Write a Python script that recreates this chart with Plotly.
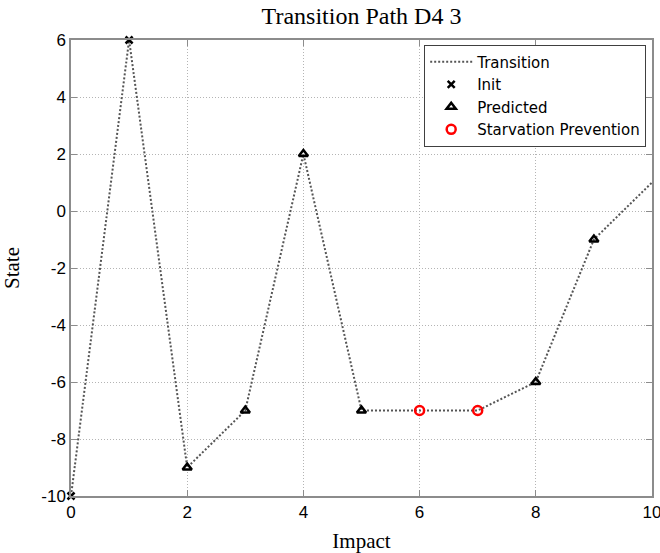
import plotly.graph_objects as go

impact = [0, 1, 2, 3, 4, 5, 6, 7, 8, 9, 10]
state = [-10, 6, -9, -7, 2, -7, -7, -7, -6, -1, 1]

init_x = [0, 1]
init_y = [-10, 6]
pred_x = [2, 3, 4, 5, 8, 9]
pred_y = [-9, -7, 2, -7, -6, -1]
starv_x = [6, 7]
starv_y = [-7, -7]

x_ticks = [0, 2, 4, 6, 8, 10]
x_tick_labels = ["0", "2", "4", "6", "8", "10"]
y_ticks = [-10, -8, -6, -4, -2, 0, 2, 4, 6]
y_tick_labels = ["-10", "-8", "-6", "-4", "-2", "0", "2", "4", "6"]

fig = go.Figure()
fig.add_trace(go.Scatter(x=impact, y=state, mode="lines", name="Transition",
                         line=dict(color="#555555", width=2, dash="2px,2px")))
fig.add_trace(go.Scatter(x=init_x, y=init_y, mode="markers", name="Init", cliponaxis=False,
                         marker=dict(symbol="x-thin", size=7, color="black",
                                     line=dict(color="black", width=2.5))))
fig.add_trace(go.Scatter(x=pred_x, y=pred_y, mode="markers", name="Predicted", cliponaxis=False,
                         marker=dict(symbol="triangle-up-open", size=8, color="black",
                                     line=dict(color="black", width=2.5))))
fig.add_trace(go.Scatter(x=starv_x, y=starv_y, mode="markers", name="Starvation Prevention",
                         cliponaxis=False,
                         marker=dict(symbol="circle-open", size=9, color="red",
                                     line=dict(color="red", width=2.5))))

axis_common = dict(
    showgrid=True, gridcolor="#b4b4b4", griddash="1px,2px", gridwidth=1,
    showline=True, linecolor="#8c8c8c", linewidth=1.5, mirror="ticks",
    ticks="inside", ticklen=6, tickcolor="#8c8c8c",
    zeroline=False, automargin=False, ticklabeloverflow="allow",
    tickfont=dict(family="Liberation Sans, Arial", size=17, color="black"),
)

fig.update_layout(
    width=660, height=553,
    margin=dict(l=71, r=8, t=40, b=57),
    paper_bgcolor="white", plot_bgcolor="white",
    title=dict(text="Transition Path D4 3", xref="paper", x=0.5, xanchor="center",
               y=0.971, yanchor="middle",
               font=dict(family="Liberation Serif, Times New Roman", size=24, color="black")),
    xaxis=dict(range=[0, 10], tickvals=x_ticks, ticktext=x_tick_labels,
               title=dict(text="Impact", standoff=12,
                          font=dict(family="Liberation Serif, Times New Roman", size=21, color="black")),
               **axis_common),
    yaxis=dict(range=[-10, 6], tickvals=y_ticks, ticktext=y_tick_labels,
               title=dict(text="State", standoff=18,
                          font=dict(family="Liberation Serif, Times New Roman", size=21, color="black")),
               **axis_common),
    legend=dict(x=0.99, y=0.99, xanchor="right", yanchor="top",
                bgcolor="white", bordercolor="#404040", borderwidth=1,
                font=dict(family="DejaVu Sans, Liberation Sans", size=15, color="black"),
                tracegroupgap=0, itemwidth=42),
    showlegend=True,
)

fig.write_html("out.html", config={"displayModeBar": False},
               post_script="document.body.style.margin='0';document.body.style.padding='0';")
